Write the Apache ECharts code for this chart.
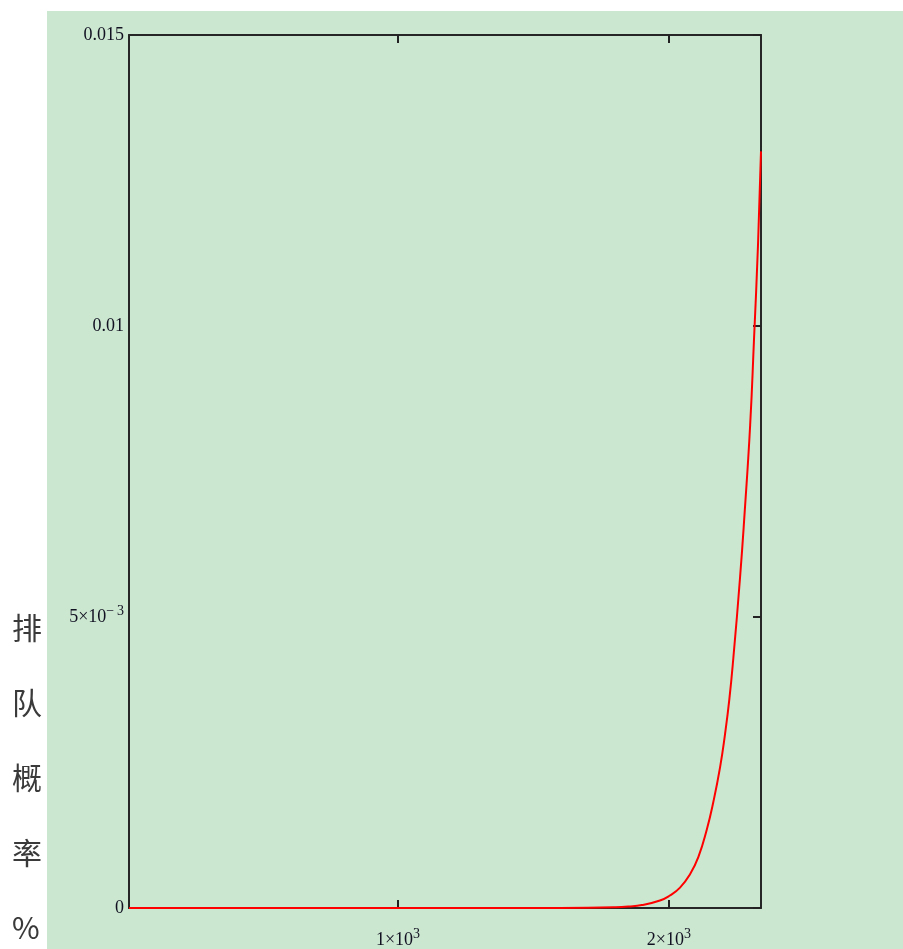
<!DOCTYPE html>
<html>
<head>
<meta charset="utf-8">
<script src="https://cdn.jsdelivr.net/npm/echarts@6/dist/echarts.min.js"></script>
<style>
html,body{margin:0;padding:0;background:#ffffff;}
#chart{width:903px;height:949px;}
</style>
</head>
<body>
<div id="chart"></div>
<script>
// Data
const xValues = [7, 1000, 1500, 1700, 1800, 1850, 1900, 1967, 2002, 2041, 2078, 2109, 2140, 2164, 2189, 2207, 2223, 2238, 2263, 2279, 2300, 2314, 2329, 2340];
const yValues = [0, 0, 0, 0.000003, 0.000012, 0.000025, 0.00005, 0.00013, 0.00021, 0.00035, 0.00058, 0.00088, 0.00135, 0.00182, 0.00242, 0.00298, 0.00358, 0.0043, 0.0057, 0.00675, 0.0083, 0.00975, 0.0114, 0.013];
const xTickValues = [1000, 2000];
const xTickLabels = ['{b|1×10}{s|3}', '{b|2×10}{s|3}'];
const yTickValues = [0, 0.005, 0.01, 0.015];
const yTickLabels = ['{b|0}', '{b|5×10}{s|−\u20093}', '{b|0.01}', '{b|0.015}'];
const yAxisTitle = ['排', '队', '概', '率', '%'];

const points = xValues.map((x, i) => [x, yValues[i]]);
const chart = echarts.init(document.getElementById('chart'), null, {renderer: 'canvas'});

const serif = '"Liberation Serif", "DejaVu Serif", serif';
const rich = {
  b: {fontFamily: serif, fontSize: 18, color: '#111122'},
  s: {fontFamily: serif, fontSize: 14, color: '#111122', verticalAlign: 'top', padding: [0, 0, 12, 0]}
};
const axisLineStyle = {color: '#262626', width: 2};
const tickStyle = {color: '#222', width: 2};

chart.setOption({
  animation: false,
  backgroundColor: '#ffffff',
  graphic: [
    {type: 'rect', z: -100, shape: {x: 47, y: 11, width: 856, height: 938}, style: {fill: '#cce7cf'}, silent: true},
    {type: 'text', z: 10, left: 12, top: 590, style: {
      text: yAxisTitle.join('\n'), font: '30px "Noto Sans CJK SC", sans-serif',
      fill: '#3a3a3a', lineHeight: 75
    }}
  ],
  grid: {left: 129, top: 35, right: 142, bottom: 40, show: false},
  xAxis: [
    {
      type: 'value', position: 'bottom', min: 7, max: 2340,
      axisLine: {show: true, onZero: false, lineStyle: axisLineStyle},
      axisTick: {show: true, inside: true, length: 8, customValues: xTickValues, lineStyle: tickStyle},
      axisLabel: {show: true, margin: 19, customValues: xTickValues,
        formatter: v => xTickLabels[xTickValues.indexOf(v)] || '', rich: rich},
      splitLine: {show: false}
    },
    {
      type: 'value', position: 'top', min: 7, max: 2340,
      axisLine: {show: true, onZero: false, lineStyle: axisLineStyle},
      axisTick: {show: true, inside: true, length: 8, customValues: xTickValues, lineStyle: tickStyle},
      axisLabel: {show: false},
      splitLine: {show: false}
    }
  ],
  yAxis: [
    {
      type: 'value', position: 'left', min: 0, max: 0.015, interval: 0.005,
      axisLine: {show: true, onZero: false, lineStyle: axisLineStyle},
      axisTick: {show: false},
      axisLabel: {show: true, margin: 5,
        formatter: v => {
          const i = yTickValues.findIndex(t => Math.abs(t - v) < 1e-9);
          return i >= 0 ? yTickLabels[i] : '';
        }, rich: rich},
      splitLine: {show: false}
    },
    {
      type: 'value', position: 'right', min: 0, max: 0.015, interval: 0.005,
      axisLine: {show: true, onZero: false, lineStyle: axisLineStyle},
      axisTick: {show: true, inside: true, length: 8, lineStyle: tickStyle},
      axisLabel: {show: false},
      splitLine: {show: false}
    }
  ],
  series: [{
    type: 'line',
    xAxisIndex: 0, yAxisIndex: 0,
    data: points,
    showSymbol: false,
    smooth: 0.5,
    lineStyle: {color: '#ff0000', width: 2},
    z: 5
  }]
});
</script>
</body>
</html>
